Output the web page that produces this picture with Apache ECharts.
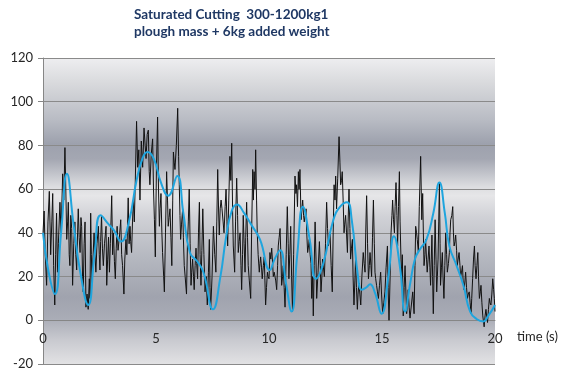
<!DOCTYPE html>
<html>
<head>
<meta charset="utf-8">
<script src="https://cdn.jsdelivr.net/npm/echarts@6/dist/echarts.min.js"></script>
<style>
  html, body { margin: 0; padding: 0; background: #ffffff; }
  #chart { width: 563px; height: 374px; }
</style>
</head>
<body>
<div id="chart"></div>
<script>
// Chart text
const titleLines = ['Saturated Cutting  300-1200kg1', 'plough mass + 6kg added weight'];
const xAxisName = 'time (s)';

// Axis ranges
const xTicks = { min: 0, max: 20, step: 5 };
const yTicks = { min: -20, max: 120, step: 20 };

// Measured cutting force, [time (s), value], in 4-second blocks
const forceBlock1 = [[0.00,40],[0.05,50],[0.10,30],[0.16,16],[0.22,45],[0.28,59],[0.34,30],[0.39,45],[0.43,58],[0.47,25],[0.52,7],[0.56,30],[0.60,49],[0.64,22],[0.68,35],[0.75,54],[0.80,40],[0.87,67],[0.92,55],[0.97,79],[1.01,60],[1.05,37],[1.09,45],[1.12,54],[1.16,30],[1.19,25],[1.23,48],[1.27,42],[1.31,16],[1.36,35],[1.41,45],[1.45,30],[1.49,23],[1.53,40],[1.56,51],[1.60,38],[1.64,31],[1.68,47],[1.71,43],[1.75,20],[1.78,13],[1.82,35],[1.86,45],[1.90,6],[1.95,12],[2.00,5],[2.05,19],[2.08,10],[2.11,49],[2.14,30],[2.17,17],[2.21,28],[2.26,40],[2.30,30],[2.34,22],[2.39,35],[2.45,43],[2.49,30],[2.52,23],[2.55,36],[2.59,48],[2.63,33],[2.67,25],[2.72,35],[2.79,43],[2.82,16],[2.86,28],[2.90,38],[2.94,22],[2.98,35],[3.04,57],[3.08,30],[3.12,40],[3.16,27],[3.20,19],[3.24,33],[3.28,43],[3.32,32],[3.38,38],[3.44,46],[3.48,30],[3.52,25],[3.58,12],[3.62,28],[3.67,37],[3.71,30],[3.77,56],[3.81,35],[3.85,43],[3.88,36],[3.92,31],[3.96,45]];
const forceBlock2 = [[4.00,55],[4.04,45],[4.08,62],[4.14,91],[4.19,70],[4.24,78],[4.29,55],[4.35,82],[4.41,70],[4.47,88],[4.52,80],[4.56,74],[4.61,85],[4.66,87],[4.70,68],[4.73,62],[4.79,76],[4.85,83],[4.89,60],[4.93,46],[4.97,29],[5.02,70],[5.07,93],[5.11,60],[5.15,43],[5.18,51],[5.22,58],[5.26,40],[5.29,31],[5.34,20],[5.37,13],[5.42,40],[5.47,68],[5.51,55],[5.54,43],[5.58,47],[5.62,51],[5.66,38],[5.70,25],[5.74,55],[5.77,77],[5.81,72],[5.84,69],[5.90,80],[5.96,97],[6.00,75],[6.03,62],[6.06,48],[6.09,37],[6.13,44],[6.18,51],[6.21,38],[6.25,25],[6.29,20],[6.35,12],[6.39,34],[6.43,45],[6.47,60],[6.51,35],[6.55,16],[6.58,22],[6.62,28],[6.66,20],[6.69,14],[6.73,25],[6.77,33],[6.80,26],[6.84,19],[6.88,40],[6.92,54],[6.95,30],[6.99,16],[7.03,32],[7.07,51],[7.12,30],[7.17,13],[7.22,20],[7.27,7],[7.32,22],[7.36,37],[7.39,15],[7.42,5],[7.48,20],[7.54,43],[7.60,30],[7.65,22],[7.69,45],[7.73,69],[7.77,50],[7.80,39],[7.84,51],[7.88,55],[7.92,51],[7.97,45]];
const forceBlock3 = [[8.01,40],[8.06,52],[8.10,60],[8.14,45],[8.17,34],[8.22,55],[8.27,75],[8.31,64],[8.35,81],[8.39,50],[8.42,34],[8.45,28],[8.48,22],[8.52,45],[8.57,65],[8.61,48],[8.64,31],[8.68,36],[8.72,40],[8.76,25],[8.79,14],[8.83,30],[8.86,48],[8.90,35],[8.94,22],[8.97,38],[9.01,54],[9.05,38],[9.08,25],[9.13,18],[9.19,10],[9.23,40],[9.28,69],[9.31,55],[9.34,68],[9.38,60],[9.41,78],[9.45,55],[9.48,40],[9.52,30],[9.57,22],[9.60,26],[9.63,29],[9.67,24],[9.70,19],[9.75,25],[9.79,29],[9.82,18],[9.85,7],[9.89,15],[9.93,22],[9.96,20],[10.00,19],[10.04,31],[10.08,28],[10.12,33],[10.16,26],[10.19,20],[10.23,22],[10.27,22],[10.30,18],[10.34,14],[10.38,25],[10.41,34],[10.45,38],[10.49,42],[10.53,28],[10.56,16],[10.60,20],[10.63,25],[10.67,15],[10.71,6],[10.76,30],[10.81,52],[10.85,35],[10.88,19],[10.92,30],[10.96,43],[11.00,20],[11.04,4],[11.09,30],[11.15,66],[11.19,58],[11.22,62],[11.26,52],[11.30,68],[11.33,60],[11.37,69],[11.42,46],[11.45,50],[11.49,55],[11.53,48],[11.56,45],[11.60,48],[11.64,51],[11.67,40],[11.71,31],[11.75,34],[11.78,37],[11.82,30],[11.86,26],[11.89,10],[11.93,20],[11.96,2]];
const forceBlock4 = [[12.00,25],[12.04,45],[12.08,28],[12.11,10],[12.17,22],[12.23,36],[12.27,25],[12.30,13],[12.34,20],[12.37,28],[12.41,24],[12.45,20],[12.50,35],[12.55,54],[12.59,42],[12.63,34],[12.67,37],[12.70,40],[12.75,25],[12.80,13],[12.84,40],[12.88,62],[12.92,55],[12.95,66],[12.99,51],[13.04,65],[13.10,84],[13.14,72],[13.17,62],[13.21,64],[13.24,68],[13.28,55],[13.32,40],[13.35,44],[13.39,48],[13.43,40],[13.47,31],[13.50,45],[13.54,60],[13.58,42],[13.61,28],[13.65,33],[13.69,37],[13.72,20],[13.76,7],[13.80,18],[13.83,28],[13.87,15],[13.91,5],[13.94,12],[13.98,17],[14.02,12],[14.06,7],[14.11,20],[14.17,31],[14.21,26],[14.25,22],[14.28,40],[14.32,57],[14.36,35],[14.40,19],[14.44,25],[14.47,31],[14.51,25],[14.54,20],[14.58,38],[14.62,55],[14.66,35],[14.69,22],[14.72,19],[14.76,16],[14.80,13],[14.84,10],[14.89,16],[14.94,22],[14.98,12],[15.03,3],[15.08,8],[15.13,13],[15.18,24],[15.24,34],[15.27,15],[15.31,0],[15.36,20],[15.40,40],[15.44,48],[15.47,55],[15.51,46],[15.55,40],[15.58,52],[15.62,63],[15.66,48],[15.69,34],[15.73,52],[15.77,68],[15.80,45],[15.84,28],[15.87,20],[15.90,30],[15.94,2],[15.98,15]];
const forceBlock5 = [[16.02,25],[16.06,12],[16.09,3],[16.13,8],[16.16,14],[16.20,6],[16.24,1],[16.30,7],[16.36,13],[16.42,3],[16.46,25],[16.49,43],[16.53,40],[16.56,37],[16.61,31],[16.65,52],[16.71,75],[16.76,46],[16.80,58],[16.83,40],[16.86,25],[16.90,30],[16.93,37],[16.97,28],[17.00,22],[17.04,28],[17.08,34],[17.12,24],[17.15,16],[17.18,28],[17.21,39],[17.24,20],[17.27,3],[17.31,25],[17.35,46],[17.39,28],[17.42,13],[17.45,20],[17.48,28],[17.51,45],[17.54,63],[17.57,35],[17.59,16],[17.63,24],[17.67,31],[17.70,20],[17.74,10],[17.78,25],[17.82,40],[17.86,30],[17.89,22],[17.94,26],[17.98,31],[18.01,40],[18.04,46],[18.09,48],[18.13,52],[18.16,40],[18.19,34],[18.23,36],[18.26,39],[18.30,32],[18.33,25],[18.37,28],[18.41,31],[18.45,25],[18.48,20],[18.52,22],[18.56,25],[18.59,18],[18.63,14],[18.67,18],[18.70,22],[18.74,15],[18.78,10],[18.82,12],[18.86,13],[18.90,8],[18.94,3],[18.97,10],[19.01,19],[19.05,28],[19.09,34],[19.12,25],[19.16,19],[19.20,25],[19.24,31],[19.27,20],[19.31,10],[19.35,13],[19.38,16],[19.42,8],[19.46,2],[19.52,-3],[19.56,2],[19.60,5],[19.64,1],[19.67,-1],[19.71,5],[19.75,10],[19.78,8],[19.82,7],[19.86,12],[19.90,19],[19.94,14],[19.97,10],[20.00,4]];

// Smoothed trend of the force signal, [time (s), value]
const trendPoints = [[0.00,40],[0.25,22],[0.53,12],[0.80,40],[1.06,67],[1.35,44],[1.65,22],[2.00,7],[2.28,30],[2.55,48],[2.90,44],[3.15,41],[3.45,36],[3.80,45],[4.14,64],[4.40,74],[4.62,77],[4.90,74],[5.22,63],[5.54,57],[5.94,66],[6.21,49],[6.50,31],[6.82,27],[7.10,22],[7.52,5],[7.85,20],[8.10,38],[8.35,50],[8.58,53],[8.90,49],[9.20,44],[9.60,37],[10.04,23],[10.25,28],[10.49,32],[10.75,17],[11.00,4],[11.25,30],[11.50,52],[11.80,37],[12.08,19],[12.40,26],[12.85,46],[13.15,52],[13.45,54],[13.66,46],[13.95,19],[14.10,14],[14.30,15],[14.47,16.5],[14.69,12.5],[14.98,3],[15.28,20],[15.53,38.5],[15.80,24],[16.02,4],[16.25,17],[16.46,28],[16.68,32.5],[16.97,37],[17.27,49],[17.54,63],[17.78,49],[17.98,34],[18.30,25],[18.60,16],[18.90,4],[19.20,0.5],[19.48,-0.5],[19.70,2],[20.00,7]];

const forcePoints = forceBlock1.concat(forceBlock2, forceBlock3, forceBlock4, forceBlock5);

// Banded silver shading behind the plot
const plotShade = new echarts.graphic.LinearGradient(0, 0, 0, 1, [
  { offset: 0.00, color: '#eeeef0' },
  { offset: 0.08, color: '#d9dadd' },
  { offset: 0.20, color: '#b9bcc4' },
  { offset: 0.28, color: '#9da1ad' },
  { offset: 0.33, color: '#a4a7b2' },
  { offset: 0.42, color: '#dcdde0' },
  { offset: 0.45, color: '#e6e6e8' },
  { offset: 0.52, color: '#d0d1d6' },
  { offset: 0.65, color: '#b5b8c0' },
  { offset: 0.78, color: '#a0a3ae' },
  { offset: 0.85, color: '#a9acb6' },
  { offset: 0.92, color: '#c8c9cf' },
  { offset: 1.00, color: '#e2e2e4' }
]);

const labelFont = { fontFamily: 'Lato', fontSize: 13, color: '#262626' };

const chart = echarts.init(document.getElementById('chart'), null, { renderer: 'canvas' });
chart.setOption({
  animation: false,
  title: {
    text: titleLines.join('\n'),
    left: 134,
    top: 6,
    padding: 0,
    textStyle: {
      fontFamily: 'Lato',
      fontSize: 13.5,
      fontWeight: 'bold',
      color: '#1f3864',
      lineHeight: 17
    }
  },
  grid: {
    left: 43, right: 68, top: 58, bottom: 10,
    outerBoundsMode: 'none',
    containLabel: false,
    show: true,
    backgroundColor: plotShade,
    borderWidth: 0
  },
  xAxis: {
    type: 'value',
    position: 'bottom',
    min: xTicks.min, max: xTicks.max, interval: xTicks.step,
    axisLine: { show: true, onZero: false, lineStyle: { color: '#868686', width: 1 } },
    axisTick: { show: false },
    axisLabel: Object.assign({ margin: 12 }, labelFont),
    splitLine: { show: false }
  },
  yAxis: {
    type: 'value',
    min: yTicks.min, max: yTicks.max, interval: yTicks.step,
    axisLine: { show: true, onZero: false, lineStyle: { color: '#868686', width: 1 } },
    axisTick: { show: true, length: 5, lineStyle: { color: '#868686' } },
    axisLabel: Object.assign({ margin: 10 }, labelFont),
    splitLine: { show: true, lineStyle: { color: '#8a8a8a', width: 1 } }
  },
  series: [
    {
      name: 'force',
      type: 'line',
      data: forcePoints,
      showSymbol: false,
      lineStyle: { color: '#111111', width: 1 },
      z: 2
    },
    {
      name: 'trend',
      type: 'line',
      data: trendPoints,
      smooth: 0.5,
      showSymbol: false,
      lineStyle: { color: '#1fa5de', width: 2 },
      z: 3
    }
  ]
});

// Lift the time axis onto the zero line and put its name after the axis end
const zeroPx = chart.convertToPixel({ yAxisIndex: 0 }, 0);
const floorPx = chart.convertToPixel({ yAxisIndex: 0 }, yTicks.min);
const endPx = chart.convertToPixel({ xAxisIndex: 0 }, xTicks.max);
chart.setOption({
  xAxis: { offset: zeroPx - floorPx },
  graphic: [{
    type: 'text',
    x: endPx + 22,
    y: zeroPx + 17,
    style: {
      text: xAxisName,
      font: '13px Lato',
      fill: '#262626',
      verticalAlign: 'middle'
    }
  }]
});
</script>
</body>
</html>
